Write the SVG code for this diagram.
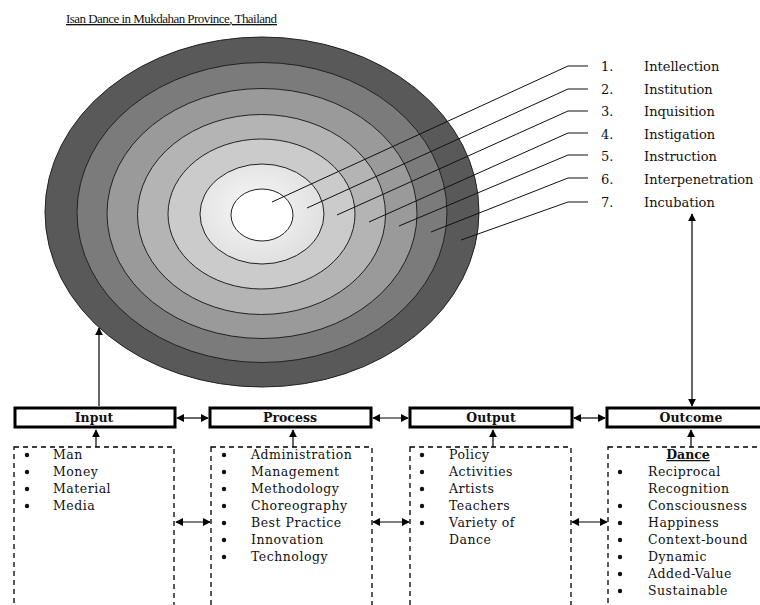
<svg xmlns="http://www.w3.org/2000/svg" width="760" height="605" viewBox="0 0 760 605">
<style>
.t{font-family:"DejaVu Serif","Liberation Serif",serif;font-size:12.5px;letter-spacing:0.5px;fill:#111}
.lab{font-family:"DejaVu Serif","Liberation Serif",serif;font-size:13px;fill:#111}
.hd{font-family:"DejaVu Serif","Liberation Serif",serif;font-size:12.5px;font-weight:bold;fill:#111;text-anchor:middle}
.box{fill:#fff;stroke:#000;stroke-width:3}
.dbox{fill:#fff;stroke:#000;stroke-width:1.3;stroke-dasharray:5,4}
.ring{stroke:#222;stroke-width:1}
.ln{stroke:#000;stroke-width:1.2;fill:none}
.lead{stroke:#111;stroke-width:1;fill:none}
.b{fill:#111}
</style>
<defs>
<marker id="ah" viewBox="0 0 10 10" refX="9" refY="5" markerWidth="8" markerHeight="8" markerUnits="userSpaceOnUse" orient="auto-start-reverse">
<path d="M0,0 L10,5 L0,10 z" fill="#000"/>
</marker>
<radialGradient id="g6" cx="0.45" cy="0.45" r="0.6">
<stop offset="0" stop-color="#f8f8f8"/><stop offset="1" stop-color="#dedede"/>
</radialGradient>
</defs>
<rect width="760" height="605" fill="#fff"/>

<text x="66" y="23" font-family="Liberation Serif, serif" font-size="13" fill="#111" text-decoration="underline" textLength="211">Isan Dance in Mukdahan Province, Thailand</text>

<g id="circles">
<ellipse class="ring" cx="262" cy="212" rx="217" ry="175" fill="#595959"/>
<ellipse class="ring" cx="262" cy="212.5" rx="185" ry="150" fill="#7b7b7b"/>
<ellipse class="ring" cx="262" cy="213.5" rx="155" ry="125" fill="#9a9a9a"/>
<ellipse class="ring" cx="261.5" cy="214.5" rx="124" ry="100" fill="#b4b4b4"/>
<ellipse class="ring" cx="261.5" cy="214" rx="93.5" ry="75" fill="#cbcbcb"/>
<ellipse class="ring" cx="262" cy="214" rx="62" ry="50" fill="url(#g6)"/>
<ellipse class="ring" cx="262" cy="215" rx="31" ry="26" fill="#fff"/>
</g>

<g id="leaders">
<polyline class="lead" points="272,202 568,66 588,66"/>
<polyline class="lead" points="307,208 568,89 588,89"/>
<polyline class="lead" points="337,215 568,111 588,111"/>
<polyline class="lead" points="369,222 568,133 588,133"/>
<polyline class="lead" points="399,226 568,155 588,155"/>
<polyline class="lead" points="431,232 568,178 588,178"/>
<polyline class="lead" points="461,240 568,202 588,202"/>
</g>

<g id="levels">
<text class="lab" x="601" y="71">1.</text><text class="lab" x="644" y="71">Intellection</text>
<text class="lab" x="601" y="94">2.</text><text class="lab" x="644" y="94">Institution</text>
<text class="lab" x="601" y="116">3.</text><text class="lab" x="644" y="116">Inquisition</text>
<text class="lab" x="601" y="139">4.</text><text class="lab" x="644" y="139">Instigation</text>
<text class="lab" x="601" y="161">5.</text><text class="lab" x="644" y="161">Instruction</text>
<text class="lab" x="601" y="184">6.</text><text class="lab" x="644" y="184">Interpenetration</text>
<text class="lab" x="601" y="207">7.</text><text class="lab" x="644" y="207">Incubation</text>
</g>

<g id="input">
<rect class="box" x="15" y="408" width="160" height="19"/>
<text class="hd" x="94" y="422">Input</text>
<rect class="dbox" x="14" y="447" width="160" height="170"/>
<circle class="b" cx="27" cy="455" r="2.2"/><text class="t" x="53" y="459">Man</text>
<circle class="b" cx="27" cy="472" r="2.2"/><text class="t" x="53" y="476">Money</text>
<circle class="b" cx="27" cy="489" r="2.2"/><text class="t" x="53" y="493">Material</text>
<circle class="b" cx="27" cy="506" r="2.2"/><text class="t" x="53" y="510">Media</text>
</g>

<g id="process">
<rect class="box" x="210" y="408" width="161" height="19"/>
<text class="hd" x="290" y="422">Process</text>
<rect class="dbox" x="211" y="447" width="161" height="170"/>
<circle class="b" cx="224" cy="455" r="2.2"/><text class="t" x="251" y="459">Administration</text>
<circle class="b" cx="224" cy="472" r="2.2"/><text class="t" x="251" y="476">Management</text>
<circle class="b" cx="224" cy="489" r="2.2"/><text class="t" x="251" y="493">Methodology</text>
<circle class="b" cx="224" cy="506" r="2.2"/><text class="t" x="251" y="510">Choreography</text>
<circle class="b" cx="224" cy="523" r="2.2"/><text class="t" x="251" y="527">Best Practice</text>
<circle class="b" cx="224" cy="540" r="2.2"/><text class="t" x="251" y="544">Innovation</text>
<circle class="b" cx="224" cy="557" r="2.2"/><text class="t" x="251" y="561">Technology</text>
</g>

<g id="output">
<rect class="box" x="410" y="408" width="162" height="19"/>
<text class="hd" x="491" y="422">Output</text>
<rect class="dbox" x="410" y="447" width="161" height="170"/>
<circle class="b" cx="422" cy="455" r="2.2"/><text class="t" x="449" y="459">Policy</text>
<circle class="b" cx="422" cy="472" r="2.2"/><text class="t" x="449" y="476">Activities</text>
<circle class="b" cx="422" cy="489" r="2.2"/><text class="t" x="449" y="493">Artists</text>
<circle class="b" cx="422" cy="506" r="2.2"/><text class="t" x="449" y="510">Teachers</text>
<circle class="b" cx="422" cy="523" r="2.2"/><text class="t" x="449" y="527">Variety of</text>
<text class="t" x="449" y="544">Dance</text>
</g>

<g id="outcome">
<rect class="box" x="607" y="408" width="160" height="19"/>
<text class="hd" x="691" y="422">Outcome</text>
<rect class="dbox" x="608" y="447" width="160" height="170"/>
<text class="hd" x="688" y="459" text-decoration="underline">Dance</text>
<circle class="b" cx="620" cy="472" r="2.2"/><text class="t" x="648" y="476">Reciprocal</text>
<text class="t" x="648" y="493">Recognition</text>
<circle class="b" cx="620" cy="506" r="2.2"/><text class="t" x="648" y="510">Consciousness</text>
<circle class="b" cx="620" cy="523" r="2.2"/><text class="t" x="648" y="527">Happiness</text>
<circle class="b" cx="620" cy="540" r="2.2"/><text class="t" x="648" y="544">Context-bound</text>
<circle class="b" cx="620" cy="557" r="2.2"/><text class="t" x="648" y="561">Dynamic</text>
<circle class="b" cx="620" cy="574" r="2.2"/><text class="t" x="648" y="578">Added-Value</text>
<circle class="b" cx="620" cy="591" r="2.2"/><text class="t" x="648" y="595">Sustainable</text>
</g>

<g id="connectors">
<line class="ln" x1="99" y1="406" x2="99" y2="328" marker-end="url(#ah)"/>
<line class="ln" x1="692" y1="214" x2="692" y2="406" marker-start="url(#ah)" marker-end="url(#ah)"/>
<line class="ln" x1="177" y1="418" x2="208" y2="418" marker-start="url(#ah)" marker-end="url(#ah)"/>
<line class="ln" x1="373" y1="418" x2="408" y2="418" marker-start="url(#ah)" marker-end="url(#ah)"/>
<line class="ln" x1="574" y1="418" x2="605" y2="418" marker-start="url(#ah)" marker-end="url(#ah)"/>
<line class="ln" x1="176" y1="522" x2="210" y2="522" marker-start="url(#ah)" marker-end="url(#ah)"/>
<line class="ln" x1="373" y1="522" x2="409" y2="522" marker-start="url(#ah)" marker-end="url(#ah)"/>
<line class="ln" x1="572" y1="522" x2="607" y2="522" marker-start="url(#ah)" marker-end="url(#ah)"/>
<line class="ln" x1="96" y1="447" x2="96" y2="430" marker-end="url(#ah)"/>
<line class="ln" x1="293" y1="447" x2="293" y2="430" marker-end="url(#ah)"/>
<line class="ln" x1="493" y1="447" x2="493" y2="430" marker-end="url(#ah)"/>
<line class="ln" x1="691" y1="447" x2="691" y2="430" marker-end="url(#ah)"/>
</g>
</svg>
